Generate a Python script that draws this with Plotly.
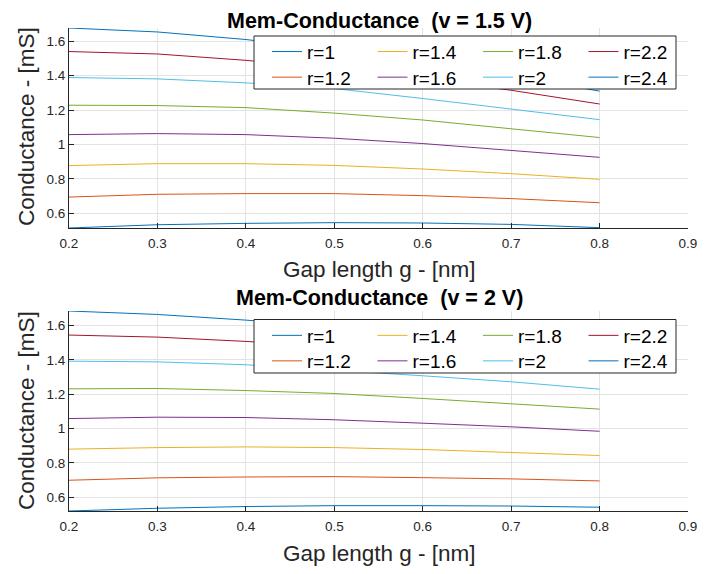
import plotly.graph_objects as go

gap = [0.2, 0.3, 0.4, 0.5, 0.6, 0.7, 0.8]
r_labels = ["r=1", "r=1.2", "r=1.4", "r=1.6", "r=1.8", "r=2", "r=2.2", "r=2.4"]
colors = ["#0072BD", "#D95319", "#EDB120", "#7E2F8E", "#77AC30", "#4DBEEE", "#A2142F", "#0072BD"]

# v = 1.5 V
g15_r10 = [0.514, 0.533, 0.541, 0.545, 0.543, 0.535, 0.516]
g15_r12 = [0.694, 0.710, 0.714, 0.714, 0.702, 0.685, 0.661]
g15_r14 = [0.877, 0.888, 0.888, 0.878, 0.857, 0.830, 0.797]
g15_r16 = [1.057, 1.063, 1.057, 1.036, 1.005, 0.966, 0.925]
g15_r18 = [1.228, 1.226, 1.214, 1.182, 1.142, 1.092, 1.040]
g15_r20 = [1.389, 1.381, 1.358, 1.325, 1.267, 1.206, 1.144]
g15_r22 = [1.540, 1.526, 1.489, 1.440, 1.380, 1.315, 1.235]
g15_r24 = [1.677, 1.654, 1.610, 1.550, 1.480, 1.400, 1.310]

# v = 2 V
g20_r10 = [0.520, 0.536, 0.546, 0.551, 0.551, 0.549, 0.542]
g20_r12 = [0.699, 0.713, 0.718, 0.720, 0.714, 0.707, 0.695]
g20_r14 = [0.880, 0.889, 0.893, 0.889, 0.878, 0.862, 0.843]
g20_r16 = [1.058, 1.066, 1.064, 1.051, 1.031, 1.010, 0.984]
g20_r18 = [1.231, 1.233, 1.221, 1.204, 1.175, 1.146, 1.113]
g20_r20 = [1.392, 1.388, 1.371, 1.340, 1.307, 1.272, 1.229]
g20_r22 = [1.544, 1.532, 1.507, 1.475, 1.440, 1.400, 1.360]
g20_r24 = [1.684, 1.664, 1.631, 1.590, 1.550, 1.500, 1.450]

series15 = [g15_r10, g15_r12, g15_r14, g15_r16, g15_r18, g15_r20, g15_r22, g15_r24]
series20 = [g20_r10, g20_r12, g20_r14, g20_r16, g20_r18, g20_r20, g20_r22, g20_r24]

titles = ["Mem-Conductance \u00a0(v = 1.5 V)", "Mem-Conductance \u00a0(v = 2 V)"]
xlabel = "Gap length g - [nm]"
ylabel = "Conductance - [mS]"

FONT = "Liberation Sans, Arial, Helvetica, sans-serif"
OFF = 8  # page body margin
W, H = 713 - OFF, 574 - OFF
# plot area in page pixels: x 69..688, y (top plot) 28..228, (bottom plot) 311..511
ML, MR, MT, MB = 69 - OFF, 25, 28 - OFF, 63
PW, PH = W - ML - MR, H - MT - MB

def px_x(p):
    return (p - OFF - ML) / PW

def px_y(p):
    return (H - MB - (p - OFF)) / PH

fig = go.Figure()

row_of = [0, 1, 0, 1, 0, 1, 0, 1]
legend_names = [["legend", "legend3"], ["legend2", "legend4"]]

for k, (series, xa, ya) in enumerate([(series15, "x", "y"), (series20, "x2", "y2")]):
    for i, vals in enumerate(series):
        fig.add_trace(go.Scatter(
            x=gap, y=vals, mode="lines", name=r_labels[i],
            line=dict(color=colors[i], width=1),
            xaxis=xa, yaxis=ya,
            legend=legend_names[k][row_of[i]],
            legendrank=i,
        ))

top_dom = [px_y(228), 1.0]
bot_dom = [0.0, px_y(311)]

axis_common = dict(
    showline=True, linecolor="#262626", linewidth=1, mirror=False,
    ticks="inside", ticklen=5, tickcolor="#262626", tickwidth=1,
    showgrid=True, gridcolor="#e3e3e3", gridwidth=1, zeroline=False,
    tickfont=dict(family=FONT, size=13.5, color="#262626"),
)

def yrange(series):
    lo = min(min(s) for s in series)
    hi = max(max(s) for s in series)
    return [lo, hi]

fig.update_layout(
    width=W, height=H,
    margin=dict(l=ML, r=MR, t=MT, b=MB, pad=0),
    paper_bgcolor="white", plot_bgcolor="white",
    showlegend=True,
    xaxis=dict(domain=[0, 1], anchor="y", range=[0.2, 0.9], tick0=0.2, dtick=0.1,
               ticklabelstandoff=3, **axis_common),
    yaxis=dict(domain=top_dom, anchor="x", range=yrange(series15), tick0=0.6, dtick=0.2, **axis_common),
    xaxis2=dict(domain=[0, 1], anchor="y2", range=[0.2, 0.9], tick0=0.2, dtick=0.1,
                ticklabelstandoff=3, **axis_common),
    yaxis2=dict(domain=bot_dom, anchor="x2", range=yrange(series20), tick0=0.6, dtick=0.2, **axis_common),
)

leg_font = dict(family=FONT, size=19, color="#000000")
leg_common = dict(orientation="h", xanchor="left", yanchor="middle", bgcolor="rgba(0,0,0,0)",
                  borderwidth=0, font=leg_font, entrywidth=60.5, entrywidthmode="pixels",
                  itemwidth=30, tracegroupgap=0)
lx = px_x(267)
fig.update_layout(
    legend=dict(x=lx, y=px_y(51.7), **leg_common),
    legend3=dict(x=lx, y=px_y(77.3), **leg_common),
    legend2=dict(x=lx, y=px_y(335.5), **leg_common),
    legend4=dict(x=lx, y=px_y(361.0), **leg_common),
)

for (ytop, ybot) in [(36, 89), (319.5, 373)]:
    fig.add_shape(type="rect", xref="paper", yref="paper",
                  x0=px_x(254), x1=px_x(676), y0=px_y(ybot), y1=px_y(ytop),
                  line=dict(color="#262626", width=1), fillcolor="white", layer="above")

annos = []
for t, yp in zip(titles, [21, 298]):
    annos.append(dict(text="<b>" + t + "</b>", x=px_x(379.5), y=px_y(yp), xref="paper", yref="paper",
                      xanchor="center", yanchor="middle", showarrow=False,
                      font=dict(family=FONT, size=21.5, color="#000000")))
for yp in [269, 553]:
    annos.append(dict(text=xlabel, x=px_x(379.5), y=px_y(yp), xref="paper", yref="paper",
                      xanchor="center", yanchor="middle", showarrow=False,
                      font=dict(family=FONT, size=22.5, color="#262626")))
for yp in [127, 411]:
    annos.append(dict(text=ylabel, x=px_x(26), y=px_y(yp), xref="paper", yref="paper",
                      xanchor="center", yanchor="middle", showarrow=False, textangle=-90,
                      font=dict(family=FONT, size=22.5, color="#262626")))
fig.update_layout(annotations=annos)

fig.write_html("out.html")
